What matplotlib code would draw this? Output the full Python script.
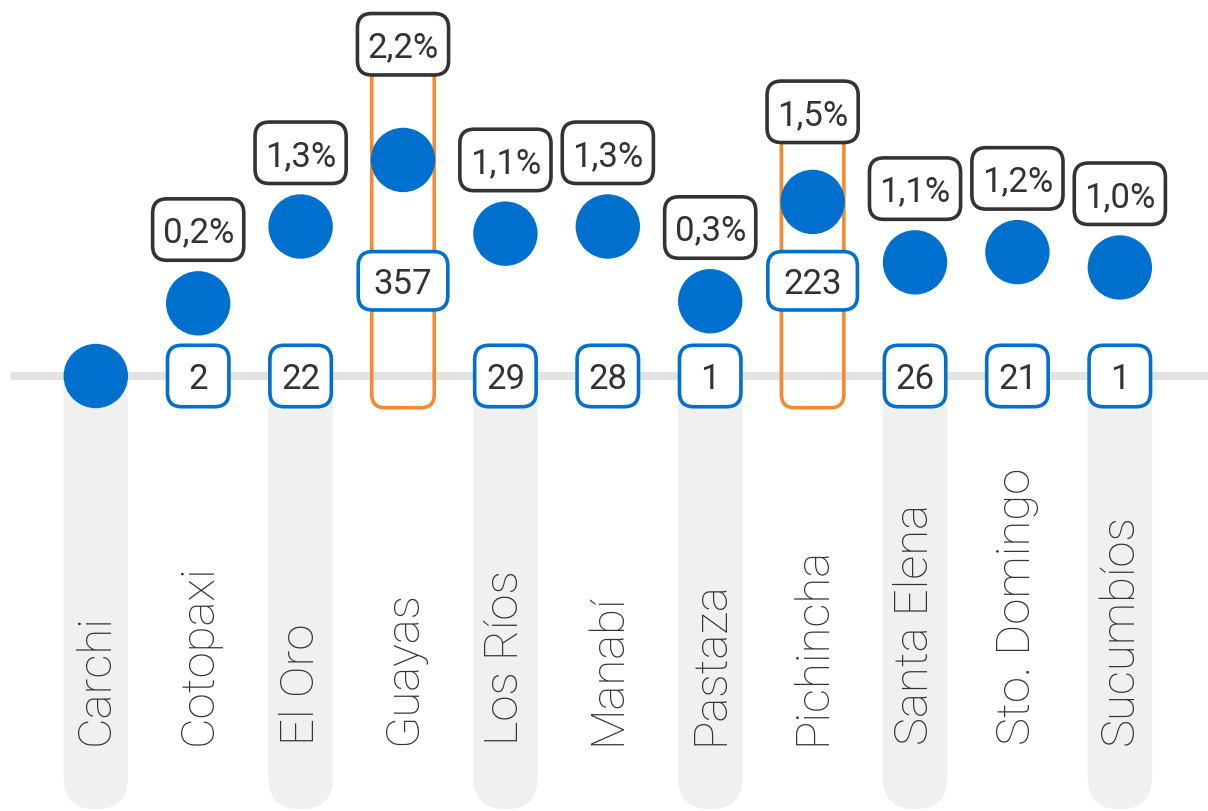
import matplotlib
matplotlib.use("Agg")
import matplotlib.pyplot as plt
from matplotlib.patches import FancyBboxPatch

# Provinces, rate labels, case counts and plotted dot height
provinces = ["Carchi", "Cotopaxi", "El Oro", "Guayas", "Los Ríos", "Manabí",
             "Pastaza", "Pichincha", "Santa Elena", "Sto. Domingo", "Sucumbíos"]
rate_labels = ["", "0,2%", "1,3%", "2,2%", "1,1%", "1,3%",
               "0,3%", "1,5%", "1,1%", "1,2%", "1,0%"]
counts = [0, 2, 22, 357, 29, 28, 1, 223, 26, 21, 1]
dot_height = [0.0, 0.71, 1.46, 2.11, 1.39, 1.46, 0.73, 1.70, 1.11, 1.21, 1.06]
highlighted = ["Guayas", "Pichincha"]

BLUE = "#0070CF"
ORANGE = "#F7892E"
DARK = "#333333"
PILL = "#F0F0F0"
LINE = "#E3E3E3"

# top of the orange frame for highlighted provinces (layout, data units)
highlight_top = {"Guayas": 3.24, "Pichincha": 2.58}

fig = plt.figure(figsize=(12.08, 8.11), dpi=100)
ax = fig.add_axes([0, 0, 1, 1])
ax.set_xlim(-0.9355, 10.861)
ax.set_ylim(-4.248, 3.672)
ax.axis("off")


def rbox(ax, xc, yc, w, h, edge, lw=2.5, r=0.14, z=5, face="white"):
    p = FancyBboxPatch((xc - w / 2, yc - h / 2), w, h,
                       boxstyle=f"round,pad=0,rounding_size={r}",
                       fc=face, ec=edge, lw=lw, zorder=z)
    ax.add_patch(p)


# grey pills under alternate labels
for i, name in enumerate(provinces):
    if i % 2 == 0:
        rbox(ax, i, (0.3 - 4.23) / 2, 0.63, 4.53, "none", lw=0, r=0.31, z=1, face=PILL)

ax.plot([-0.83, 10.9], [0, 0], color=LINE, lw=5.8, solid_capstyle="butt", zorder=2)

for i, name in enumerate(provinces):
    hl = name in highlighted
    if hl:
        top = highlight_top[name]
        bottom = -0.31
        rbox(ax, i, (top + bottom) / 2, 0.61, top - bottom, ORANGE, lw=2.6, r=0.13, z=3,
             face="none")

    # dot
    ax.scatter([i], [dot_height[i]], s=2150, color=BLUE, edgecolors="none", zorder=6)

    # rate label
    if rate_labels[i]:
        ly = highlight_top[name] if hl else dot_height[i] + 0.72
        rbox(ax, i, ly, 0.89, 0.6, DARK, lw=2.6, z=7)
        ax.text(i, ly, rate_labels[i], ha="center", va="center_baseline", fontsize=25,
                color=DARK, family="Roboto", zorder=8)

    # count label
    if counts[i] > 0:
        txt = str(counts[i])
        cy = 0.93 if hl else 0.0
        w = 0.875 if len(txt) > 2 else 0.6
        h = 0.57 if len(txt) > 2 else 0.6
        rbox(ax, i, cy, w, h, BLUE, lw=2.6, z=7)
        ax.text(i, cy, txt, ha="center", va="center_baseline", fontsize=25,
                color=DARK, family="Roboto", zorder=8)

    # province name
    ax.text(i, -3.6, name, rotation=90, ha="center", va="bottom", fontsize=34,
            color=DARK, family="Roboto", fontweight="light", zorder=4)

fig.savefig("out.png", dpi=100)
